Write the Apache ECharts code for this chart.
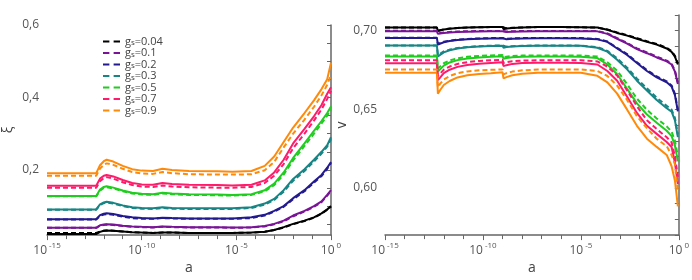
<!DOCTYPE html>
<html><head><meta charset="utf-8">
<script src="https://cdn.jsdelivr.net/npm/echarts@6/dist/echarts.min.js"></script>
<style>html,body{margin:0;padding:0;background:#fff}#c{width:692px;height:280px}</style>
</head><body><div id="c"></div>
<script>
// log10(a) positions
const xLeft = [-15, -12.4, -12.2, -12.0, -11.85, -11.5, -11.0, -10.5, -10.0, -9.4, -8.9, -8.4, -7.5, -6.0, -5.2, -4.2, -3.5, -3.0, -2.5, -2.0, -1.4, -0.9, -0.5, -0.2, 0];
const xRight = [-15, -12.35, -12.3, -12.2, -12.0, -11.7, -11.3, -10.8, -10.2, -9.6, -9.0, -8.95, -8.8, -8.5, -8.0, -7.2, -6.0, -5.0, -4.16, -3.65, -3.15, -2.64, -2.14, -1.63, -1.13, -0.62, -0.37, -0.2, -0.05];
const gsValues = ['0.04', '0.1', '0.2', '0.3', '0.5', '0.7', '0.9'];
const colors = ['#000000', '#7a1496', '#231a8f', '#178585', '#1fcc1f', '#ff1a6a', '#ff8a0a'];
const xTickLabels = ['-15', '-10', '-5', '0'];

// xi (left) solid / dashed
const xiSolid = [
  [0.023,0.023,0.029,0.032,0.033,0.032,0.030,0.028,0.027,0.026,0.027,0.027,0.026,0.026,0.026,0.027,0.029,0.034,0.042,0.051,0.060,0.069,0.080,0.091,0.100],
  [0.040,0.040,0.047,0.049,0.050,0.049,0.046,0.044,0.043,0.042,0.044,0.043,0.042,0.042,0.041,0.042,0.045,0.051,0.060,0.074,0.087,0.100,0.113,0.131,0.144],
  [0.064,0.064,0.075,0.079,0.080,0.078,0.073,0.069,0.067,0.066,0.068,0.067,0.066,0.066,0.066,0.069,0.076,0.087,0.100,0.122,0.144,0.168,0.186,0.206,0.222],
  [0.091,0.091,0.105,0.110,0.112,0.109,0.102,0.097,0.095,0.094,0.097,0.095,0.094,0.094,0.094,0.097,0.107,0.120,0.144,0.175,0.202,0.228,0.250,0.268,0.290],
  [0.128,0.128,0.146,0.153,0.155,0.151,0.143,0.137,0.134,0.133,0.137,0.135,0.133,0.132,0.131,0.133,0.144,0.162,0.193,0.233,0.273,0.308,0.335,0.357,0.375],
  [0.156,0.156,0.176,0.184,0.186,0.182,0.172,0.164,0.160,0.159,0.164,0.161,0.159,0.158,0.157,0.159,0.171,0.193,0.228,0.273,0.313,0.348,0.379,0.410,0.428],
  [0.191,0.191,0.213,0.224,0.228,0.223,0.211,0.202,0.198,0.197,0.203,0.200,0.197,0.196,0.195,0.197,0.211,0.237,0.277,0.317,0.357,0.392,0.423,0.450,0.496]
];
const xiDashed = [
  [0.026,0.026,0.030,0.032,0.033,0.032,0.030,0.028,0.027,0.026,0.027,0.027,0.026,0.026,0.026,0.027,0.029,0.034,0.041,0.050,0.059,0.068,0.079,0.090,0.099],
  [0.040,0.040,0.046,0.048,0.049,0.048,0.045,0.043,0.042,0.041,0.043,0.042,0.041,0.041,0.040,0.041,0.044,0.050,0.058,0.072,0.085,0.098,0.111,0.129,0.142],
  [0.063,0.063,0.073,0.077,0.078,0.076,0.071,0.067,0.065,0.065,0.067,0.066,0.065,0.065,0.065,0.067,0.074,0.085,0.098,0.119,0.141,0.165,0.183,0.203,0.219],
  [0.090,0.090,0.103,0.108,0.110,0.107,0.100,0.095,0.093,0.092,0.095,0.093,0.092,0.092,0.092,0.095,0.104,0.117,0.140,0.170,0.197,0.223,0.245,0.264,0.285],
  [0.127,0.127,0.143,0.150,0.152,0.149,0.141,0.135,0.132,0.131,0.135,0.133,0.131,0.130,0.129,0.131,0.141,0.158,0.187,0.226,0.266,0.300,0.328,0.350,0.367],
  [0.151,0.151,0.169,0.177,0.180,0.176,0.166,0.158,0.154,0.153,0.157,0.154,0.152,0.151,0.151,0.153,0.164,0.184,0.216,0.260,0.300,0.336,0.367,0.396,0.418],
  [0.184,0.184,0.204,0.214,0.218,0.214,0.203,0.194,0.190,0.189,0.194,0.191,0.188,0.187,0.187,0.188,0.199,0.222,0.262,0.300,0.339,0.374,0.406,0.435,0.462]
];
// v (right) solid / dashed
const vSolid = [
  [0.7020,0.7020,0.6998,0.7002,0.7008,0.7013,0.7017,0.7020,0.7022,0.7023,0.7024,0.7010,0.7014,0.7018,0.7021,0.7023,0.7023,0.7022,0.7020,0.7006,0.6986,0.6969,0.6949,0.6929,0.6912,0.6887,0.6865,0.6835,0.6785],
  [0.6996,0.6996,0.6980,0.6982,0.6986,0.6989,0.6992,0.6994,0.6995,0.6996,0.6996,0.6990,0.6992,0.6994,0.6995,0.6996,0.6996,0.6996,0.6996,0.6980,0.6949,0.6918,0.6883,0.6857,0.6830,0.6805,0.6785,0.6740,0.6661],
  [0.6953,0.6953,0.6912,0.6917,0.6927,0.6935,0.6941,0.6946,0.6949,0.6951,0.6952,0.6943,0.6946,0.6949,0.6951,0.6952,0.6952,0.6951,0.6945,0.6929,0.6887,0.6846,0.6795,0.6744,0.6703,0.6672,0.6645,0.6590,0.6487],
  [0.6906,0.6906,0.6836,0.6845,0.6862,0.6876,0.6887,0.6895,0.6900,0.6903,0.6905,0.6892,0.6896,0.6900,0.6903,0.6905,0.6905,0.6904,0.6892,0.6867,0.6815,0.6754,0.6682,0.6620,0.6559,0.6507,0.6485,0.6430,0.6323],
  [0.6836,0.6836,0.6740,0.6752,0.6778,0.6798,0.6813,0.6823,0.6830,0.6834,0.6838,0.6822,0.6826,0.6831,0.6834,0.6836,0.6836,0.6834,0.6826,0.6785,0.6723,0.6630,0.6538,0.6467,0.6415,0.6364,0.6330,0.6270,0.6169],
  [0.6793,0.6793,0.6686,0.6700,0.6730,0.6752,0.6770,0.6782,0.6790,0.6795,0.6800,0.6775,0.6781,0.6789,0.6794,0.6796,0.6796,0.6795,0.6785,0.6744,0.6682,0.6580,0.6477,0.6395,0.6344,0.6292,0.6260,0.6160,0.6025],
  [0.6733,0.6733,0.6600,0.6620,0.6655,0.6680,0.6703,0.6717,0.6725,0.6730,0.6736,0.6697,0.6705,0.6717,0.6726,0.6732,0.6733,0.6733,0.6713,0.6672,0.6600,0.6498,0.6395,0.6313,0.6261,0.6210,0.6138,0.6046,0.5882]
];
const vDashed = [
  [0.7020,0.7020,0.7000,0.7003,0.7009,0.7014,0.7018,0.7020,0.7022,0.7023,0.7024,0.7012,0.7015,0.7019,0.7021,0.7023,0.7023,0.7022,0.7020,0.7008,0.6989,0.6972,0.6953,0.6933,0.6916,0.6892,0.6870,0.6840,0.6792],
  [0.7000,0.7000,0.6983,0.6985,0.6989,0.6992,0.6995,0.6997,0.6998,0.6999,0.6999,0.6993,0.6995,0.6997,0.6998,0.6999,0.6999,0.6999,0.6998,0.6983,0.6953,0.6922,0.6888,0.6862,0.6835,0.6810,0.6790,0.6746,0.6670],
  [0.6955,0.6955,0.6916,0.6921,0.6930,0.6937,0.6943,0.6948,0.6951,0.6953,0.6954,0.6946,0.6948,0.6951,0.6953,0.6954,0.6954,0.6953,0.6948,0.6932,0.6891,0.6851,0.6800,0.6750,0.6709,0.6678,0.6652,0.6598,0.6497],
  [0.6906,0.6906,0.6845,0.6853,0.6868,0.6880,0.6890,0.6897,0.6902,0.6905,0.6906,0.6895,0.6899,0.6902,0.6904,0.6906,0.6906,0.6905,0.6896,0.6872,0.6824,0.6765,0.6695,0.6634,0.6574,0.6522,0.6498,0.6445,0.6340],
  [0.6842,0.6842,0.6760,0.6770,0.6793,0.6811,0.6825,0.6834,0.6840,0.6843,0.6845,0.6832,0.6835,0.6839,0.6842,0.6843,0.6843,0.6842,0.6836,0.6800,0.6745,0.6660,0.6568,0.6497,0.6442,0.6392,0.6358,0.6300,0.6200],
  [0.6812,0.6812,0.6712,0.6725,0.6752,0.6772,0.6789,0.6800,0.6808,0.6812,0.6815,0.6795,0.6800,0.6806,0.6810,0.6812,0.6812,0.6812,0.6805,0.6772,0.6715,0.6620,0.6520,0.6430,0.6375,0.6322,0.6290,0.6200,0.6070],
  [0.6754,0.6754,0.6640,0.6660,0.6690,0.6712,0.6730,0.6741,0.6748,0.6751,0.6754,0.6722,0.6730,0.6740,0.6748,0.6753,0.6754,0.6754,0.6744,0.6712,0.6651,0.6560,0.6456,0.6380,0.6313,0.6265,0.6210,0.6150,0.5984]
];

const FONT = 'Open Sans';
const zip = (xs, ys) => xs.map((x, i) => [x, ys[i]]);
const series = [];
function addSeries(xIdx, xs, solid, dashed, legendNames) {
  solid.forEach((ys, i) => series.push({
    type: 'line', name: 'solid' + xIdx + '_' + i, xAxisIndex: xIdx, yAxisIndex: xIdx,
    data: zip(xs, ys), symbol: 'none', silent: true, z: 2,
    lineStyle: { color: colors[i], width: 2 }, itemStyle: { color: colors[i] }
  }));
  dashed.forEach((ys, i) => series.push({
    type: 'line', name: legendNames ? legendNames[i] : 'dash' + xIdx + '_' + i, xAxisIndex: xIdx, yAxisIndex: xIdx,
    data: zip(xs, ys), symbol: 'none', silent: true, z: 3,
    lineStyle: { color: colors[i], width: 2, type: [5, 3] }, itemStyle: { color: colors[i] }
  }));
}
const legendNames = gsValues.map(g => 'g_s=' + g);
addSeries(0, xLeft, xiSolid, xiDashed, legendNames);
addSeries(1, xRight, vSolid, vDashed, null);

const xLabelRich = {
  b: { fontSize: 12, color: '#555', fontFamily: FONT },
  s: { fontSize: 8, color: '#555', fontFamily: FONT, padding: [0, 0, 8, 2] }
};
function xAxisCfg(gi) {
  return {
    type: 'value', gridIndex: gi, min: -15, max: 0, interval: 5,
    name: 'a', nameLocation: 'middle', nameGap: 22,
    nameTextStyle: { fontSize: 14, color: '#444', fontFamily: FONT },
    axisLine: { show: true, onZero: false, lineStyle: { color: '#666', width: 1.5 } },
    axisTick: { show: true, length: 5, lineStyle: { color: '#666', width: 1 } },
    minorTick: { show: true, splitNumber: 5, length: 4, lineStyle: { color: '#666', width: 1 } },
    splitLine: { show: false }, minorSplitLine: { show: false },
    axisLabel: {
      margin: 7,
      formatter: v => '{b|10}{s|' + xTickLabels[Math.round((v + 15) / 5)] + '}',
      rich: xLabelRich
    }
  };
}
const option = {
  animation: false,
  backgroundColor: '#fff',
  textStyle: { fontFamily: FONT },
  grid: [
    { left: 42, right: 361, top: 25, bottom: 36 },
    { left: 385, right: 9, top: 15, bottom: 36 }
  ],
  legend: {
    orient: 'vertical', left: 103, top: 36,
    data: legendNames, itemWidth: 17, itemHeight: 8, itemGap: 0.5, padding: 0,
    icon: 'path://M0,0 L6,0 L6,2 L0,2 Z M10,0 L16,0 L16,2 L10,2 Z',
    formatter: n => '{g|g}{s|s}{g|=' + n.split('=')[1] + '}',
    textStyle: {
      color: '#444', fontFamily: FONT, fontSize: 11, lineHeight: 11,
      rich: {
        g: { fontSize: 11, lineHeight: 11, color: '#444', fontFamily: FONT },
        s: { fontSize: 8, lineHeight: 6, verticalAlign: 'bottom', color: '#444', fontFamily: FONT }
      }
    }
  },
  xAxis: [xAxisCfg(0), xAxisCfg(1)],
  yAxis: [
    {
      type: 'value', gridIndex: 0, min: 0.02, max: 0.6,
      name: 'ξ', nameLocation: 'middle', nameGap: 32, nameRotate: 90,
      nameTextStyle: { fontSize: 14, color: '#444', fontFamily: FONT },
      axisLine: { show: true, lineStyle: { color: '#666', width: 1.5 } },
      axisTick: { show: true, length: 4, customValues: [0.05,0.1,0.15,0.2,0.25,0.3,0.35,0.4,0.45,0.5,0.55,0.6], lineStyle: { color: '#666' } },
      axisLabel: { margin: 8, customValues: [0.2, 0.4, 0.6], color: '#555', fontSize: 12, fontFamily: FONT,
        formatter: v => v.toFixed(1).replace('.', ',') },
      splitLine: { show: false }
    },
    {
      type: 'value', gridIndex: 1, min: 0.57, max: 0.71, interval: 0.01,
      name: 'v', nameLocation: 'middle', nameGap: 34, nameRotate: 90,
      nameTextStyle: { fontSize: 14, color: '#444', fontFamily: FONT },
      axisLine: { show: true, lineStyle: { color: '#666', width: 1.5 } },
      axisTick: { show: true, length: 4, lineStyle: { color: '#666' } },
      axisLabel: { margin: 8, color: '#555', fontSize: 12, fontFamily: FONT,
        formatter: v => { const k = Math.round(v * 100); return (k % 5 === 0) ? v.toFixed(2).replace('.', ',') : ''; } },
      splitLine: { show: false }
    }
  ],
  series: series
};
const chart = echarts.init(document.getElementById('c'), null, { renderer: 'canvas' });
chart.setOption(option);
</script>
</body></html>
